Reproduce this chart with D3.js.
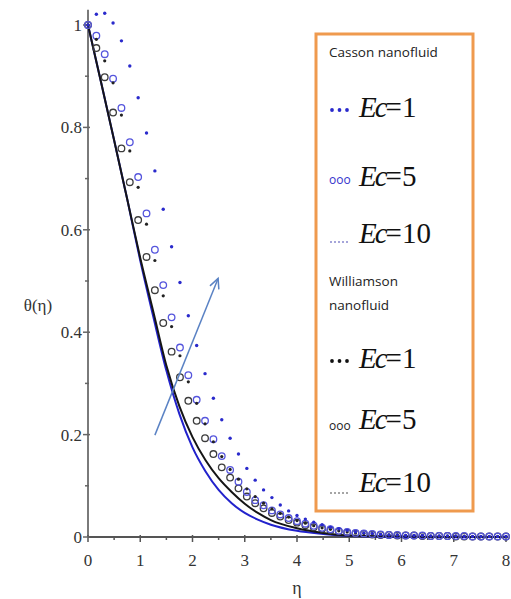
<!DOCTYPE html>
<html>
<head>
<meta charset="utf-8">
<script src="https://cdn.jsdelivr.net/npm/d3@7"></script>
<style>
  body { margin: 0; background: #fff; }
  svg { display: block; }
</style>
</head>
<body>
<div class="chart"></div>
<script>
//-----------------------------------------
// data
//-----------------------------------------

// markers sit every 0.16 in eta (0..8)
var markerStep = 0.16;

// Casson, Ec=10 (blue dots)
var cassonDots = [1, 1.021, 1.023, 1.004, 0.969, 0.920, 0.858, 0.789, 0.715, 0.640,
  0.567, 0.497, 0.432, 0.374, 0.319, 0.271, 0.229, 0.193, 0.162, 0.134,
  0.111, 0.092, 0.077, 0.0625, 0.051, 0.042, 0.035, 0.029, 0.024, 0.019,
  0.016, 0.013, 0.010, 0.008, 0.007, 0.005, 0.004, 0.004, 0.003, 0.003,
  0.003, 0.002, 0.002, 0.002, 0.002, 0.001, 0.001, 0.001, 0.001, 0.001, 0.001];

// Casson, Ec=5 (blue circles)
var cassonCircles = [1, 0.979, 0.943, 0.895, 0.838, 0.771, 0.703, 0.632, 0.561, 0.492,
  0.429, 0.370, 0.316, 0.268, 0.227, 0.191, 0.158, 0.131, 0.108, 0.088,
  0.072, 0.062, 0.052, 0.044, 0.037, 0.031, 0.026, 0.022, 0.018, 0.015,
  0.012, 0.010, 0.008, 0.007, 0.006, 0.005, 0.004, 0.004, 0.003, 0.003,
  0.003, 0.002, 0.002, 0.002, 0.002, 0.002, 0.001, 0.001, 0.001, 0.001, 0.001];

// Williamson, Ec=10 (black dots)
var williamsonDots = [1, 0.972, 0.930, 0.887, 0.824, 0.754, 0.683, 0.611, 0.540, 0.471,
  0.411, 0.354, 0.303, 0.261, 0.221, 0.186, 0.157, 0.132, 0.113, 0.094,
  0.079, 0.066, 0.055, 0.046, 0.039, 0.032, 0.027, 0.022, 0.018, 0.015,
  0.012, 0.010, 0.008, 0.007, 0.006, 0.005, 0.004, 0.004, 0.003, 0.003,
  0.003, 0.002, 0.002, 0.002, 0.002, 0.002, 0.001, 0.001, 0.001, 0.001, 0.001];

// Williamson, Ec=5 (black circles)
var williamsonCircles = [1, 0.955, 0.898, 0.829, 0.759, 0.693, 0.619, 0.547, 0.482, 0.418,
  0.362, 0.312, 0.266, 0.227, 0.193, 0.162, 0.136, 0.116, 0.095, 0.079,
  0.066, 0.056, 0.047, 0.040, 0.033, 0.028, 0.023, 0.019, 0.016, 0.013,
  0.011, 0.009, 0.007, 0.006, 0.005, 0.004, 0.004, 0.003, 0.003, 0.003,
  0.002, 0.002, 0.002, 0.002, 0.001, 0.001, 0.001, 0.001, 0.001, 0.001, 0.001];

// solid curves (Ec=1)
var lineEta = [0, 0.25, 0.5, 0.75, 1, 1.25, 1.5, 1.75, 2, 2.25, 2.5, 2.75, 3, 3.25, 3.5, 4, 4.5, 5, 6, 7, 8];
var williamsonLine = [1, 0.888, 0.775, 0.66, 0.545, 0.44, 0.335, 0.255, 0.195, 0.15, 0.115, 0.088, 0.065, 0.047, 0.033, 0.017, 0.008, 0.003, 0.001, 0, 0];
var cassonLine = [1, 0.888, 0.775, 0.66, 0.54, 0.43, 0.325, 0.24, 0.175, 0.128, 0.092, 0.066, 0.047, 0.034, 0.024, 0.012, 0.006, 0.002, 0, 0, 0];

var xTicks = [0, 1, 2, 3, 4, 5, 6, 7, 8];
var yTicks = [0, 0.2, 0.4, 0.6, 0.8, 1];

// trend arrow (eta, theta)
var arrowFrom = [1.28, 0.199];
var arrowTo = [2.49, 0.505];

//-----------------------------------------
// chart
//-----------------------------------------
var svgWidth = 511;
var svgHeight = 599;

var serif = "Liberation Serif, Times New Roman, serif";
var sans = "Open Sans, Liberation Sans, sans-serif";

var svg = d3.select(".chart")
  .append("svg")
  .attr("width", svgWidth)
  .attr("height", svgHeight);

var xScale = d3.scaleLinear().domain([0, 8]).range([88, 506]);
var yScale = d3.scaleLinear().domain([0, 1]).range([537, 25]);

// axes lines
svg.append("line")
  .attr("x1", xScale(0)).attr("x2", xScale(0))
  .attr("y1", yScale(0)).attr("y2", yScale(1.03))
  .attr("stroke", "#7a7a7a").attr("stroke-width", 2);

svg.append("line")
  .attr("x1", xScale(0)).attr("x2", xScale(8) + 2)
  .attr("y1", yScale(0)).attr("y2", yScale(0))
  .attr("stroke", "#555").attr("stroke-width", 2);

// x ticks (major + minor)
var xMinor = d3.range(0.5, 8, 1);
svg.selectAll(".xminor").data(xMinor).enter().append("line")
  .attr("x1", d => xScale(d)).attr("x2", d => xScale(d))
  .attr("y1", yScale(0) - 1).attr("y2", yScale(0) + 3)
  .attr("stroke", "#555").attr("stroke-width", 1.5);
svg.selectAll(".xmajor").data(xTicks).enter().append("line")
  .attr("x1", d => xScale(d)).attr("x2", d => xScale(d))
  .attr("y1", yScale(0) - 2).attr("y2", yScale(0) + 5)
  .attr("stroke", "#555").attr("stroke-width", 1.5);
svg.selectAll(".xlab").data(xTicks).enter().append("text")
  .attr("font-family", serif)
  .attr("x", d => xScale(d)).attr("y", 566)
  .attr("text-anchor", "middle")
  .attr("font-size", 17).attr("fill", "#333")
  .text(d => d);

// y ticks
var yMinor = d3.range(0.1, 1.0, 0.2);
svg.selectAll(".yminor").data(yMinor).enter().append("line")
  .attr("x1", xScale(0) - 3).attr("x2", xScale(0) + 1)
  .attr("y1", d => yScale(d)).attr("y2", d => yScale(d))
  .attr("stroke", "#666").attr("stroke-width", 1.5);
svg.selectAll(".ymajor").data(yTicks).enter().append("line")
  .attr("x1", xScale(0) - 5).attr("x2", xScale(0) + 2)
  .attr("y1", d => yScale(d)).attr("y2", d => yScale(d))
  .attr("stroke", "#666").attr("stroke-width", 1.5);
svg.selectAll(".ylab").data(yTicks).enter().append("text")
  .attr("font-family", serif)
  .attr("x", xScale(0) - 6).attr("y", d => yScale(d) + 6)
  .attr("text-anchor", "end")
  .attr("font-size", 17).attr("fill", "#333")
  .text(d => d);

// axis titles
svg.append("text")
  .attr("font-family", serif)
  .attr("x", xScale(4)).attr("y", 594)
  .attr("text-anchor", "middle")
  .attr("font-size", 18).attr("fill", "#333")
  .text("η");
svg.append("text")
  .attr("font-family", serif)
  .attr("x", 38).attr("y", 311)
  .attr("text-anchor", "middle")
  .attr("font-size", 17).attr("fill", "#333")
  .text("θ(η)");

// solid lines
var line = d3.line()
  .x((d, i) => xScale(lineEta[i]))
  .y(d => yScale(d))
  .curve(d3.curveMonotoneX);

svg.append("path").datum(cassonLine)
  .attr("d", line).attr("fill", "none")
  .attr("stroke", "#2222cc").attr("stroke-width", 2);
svg.append("path").datum(williamsonLine)
  .attr("d", line).attr("fill", "none")
  .attr("stroke", "#151515").attr("stroke-width", 2);

// markers
function etaOf(i) { return i * markerStep; }

svg.selectAll(".wcirc").data(williamsonCircles).enter().append("circle")
  .attr("cx", (d, i) => xScale(etaOf(i))).attr("cy", d => yScale(d))
  .attr("r", 3.3).attr("fill", "none")
  .attr("stroke", "#3c3c3c").attr("stroke-width", 1.3);

svg.selectAll(".ccirc").data(cassonCircles).enter().append("circle")
  .attr("cx", (d, i) => xScale(etaOf(i))).attr("cy", d => yScale(d))
  .attr("r", 3.3).attr("fill", "none")
  .attr("stroke", "#5555dd").attr("stroke-width", 1.3);

svg.selectAll(".wdot").data(williamsonDots).enter().append("circle")
  .attr("cx", (d, i) => xScale(etaOf(i))).attr("cy", d => yScale(d))
  .attr("r", 1.6).attr("fill", "#222");

svg.selectAll(".cdot").data(cassonDots).enter().append("circle")
  .attr("cx", (d, i) => xScale(etaOf(i))).attr("cy", d => yScale(d))
  .attr("r", 1.7).attr("fill", "#2a2acc");

// arrow
var ax1 = xScale(arrowFrom[0]), ay1 = yScale(arrowFrom[1]);
var ax2 = xScale(arrowTo[0]), ay2 = yScale(arrowTo[1]);
var ang = Math.atan2(ay2 - ay1, ax2 - ax1);
var headLen = 11, headAng = 0.45;
svg.append("line")
  .attr("x1", ax1).attr("y1", ay1).attr("x2", ax2).attr("y2", ay2)
  .attr("stroke", "#5a82c4").attr("stroke-width", 1.5);
svg.append("path")
  .attr("d", "M" + (ax2 - headLen * Math.cos(ang - headAng)) + "," + (ay2 - headLen * Math.sin(ang - headAng)) +
    "L" + ax2 + "," + ay2 +
    "L" + (ax2 - headLen * Math.cos(ang + headAng)) + "," + (ay2 - headLen * Math.sin(ang + headAng)))
  .attr("fill", "none").attr("stroke", "#5a82c4").attr("stroke-width", 1.5);

//-----------------------------------------
// legend
//-----------------------------------------
var legend = svg.append("g");
legend.append("rect")
  .attr("x", 316).attr("y", 34).attr("width", 157).attr("height", 477)
  .attr("fill", "#fff").attr("stroke", "#ef9a4e").attr("stroke-width", 3);

function header(y, txt) {
  legend.append("text").attr("font-family", sans).attr("x", 329).attr("y", y)
    .attr("font-size", 13.5).attr("fill", "#222")
    .text(txt);
}
header(57, "Casson nanofluid");
header(286, "Williamson");
header(310, "nanofluid");

// symbol: "dots" (3 bold dots), "circles" (ooo), "fine" (5 tiny dots)
function ecEntry(y, val, kind, color, symY) {
  if (kind === "dots") {
    [0, 1, 2].forEach(function (k) {
      legend.append("circle").attr("cx", 332 + k * 7.5).attr("cy", symY).attr("r", 1.9).attr("fill", color);
    });
  } else if (kind === "circles") {
    legend.append("text").attr("font-family", sans).attr("x", 329).attr("y", symY)
      .attr("font-size", 12).attr("fill", color).text("ooo");
  } else {
    [0, 1, 2, 3, 4].forEach(function (k) {
      legend.append("circle").attr("cx", 331 + k * 4).attr("cy", symY).attr("r", 0.8).attr("fill", color);
    });
  }
  var t = legend.append("text").attr("font-family", serif).attr("x", 359).attr("y", y)
    .attr("font-size", 29).attr("fill", "#111");
  t.append("tspan").attr("font-style", "italic").attr("letter-spacing", "-2").text("Ec");
  t.append("tspan").text("=" + val);
}
ecEntry(117, 1, "dots", "#2a2acc", 110);
ecEntry(186, 5, "circles", "#3333cc", 184);
ecEntry(243, 10, "fine", "#3333aa", 242);
ecEntry(368, 1, "dots", "#111", 361);
ecEntry(429, 5, "circles", "#222", 430);
ecEntry(492, 10, "fine", "#333", 493);
</script>
</body>
</html>
